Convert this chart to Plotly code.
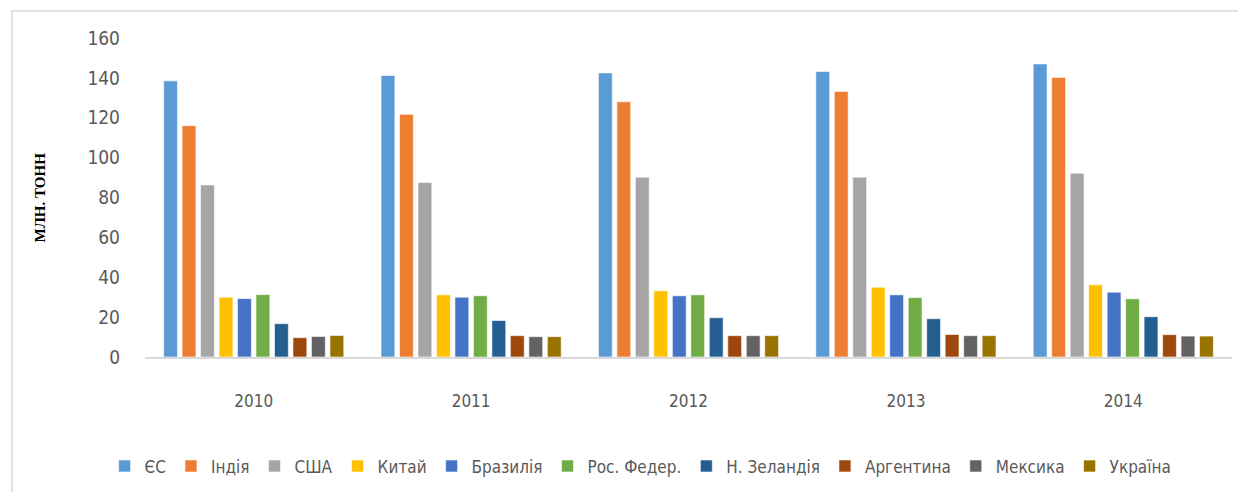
import plotly.graph_objects as go

# ============================
# дані з діаграми (млн. тонн)
# ============================
roky = ["2010", "2011", "2012", "2013", "2014"]

krainy = ["ЄС", "Індія", "США", "Китай", "Бразилія",
          "Рос. Федер.", "Н. Зеландія", "Аргентина", "Мексика", "Україна"]

es = [138.5, 141.2, 142.5, 143.2, 147.0]
india = [116.0, 121.7, 128.0, 133.2, 140.2]
ssha = [86.3, 87.5, 90.2, 90.2, 92.2]
kytai = [30.0, 31.2, 33.2, 35.0, 36.2]
brazyliia = [29.3, 30.0, 30.7, 31.2, 32.5]
ros_feder = [31.3, 30.7, 31.2, 29.8, 29.2]
n_zelandiia = [16.7, 18.3, 19.7, 19.2, 20.2]
argentyna = [9.7, 10.7, 10.7, 11.3, 11.2]
meksyka = [10.3, 10.2, 10.7, 10.7, 10.5]
ukraina = [10.8, 10.2, 10.7, 10.7, 10.5]

znachennia = [es, india, ssha, kytai, brazyliia,
              ros_feder, n_zelandiia, argentyna, meksyka, ukraina]

kolory = ["#5B9BD5", "#ED7D31", "#A5A5A5", "#FFC000", "#4472C4",
          "#70AD47", "#255E91", "#9E480E", "#636363", "#997300"]

SHRYFT = "Liberation Sans Narrow, DejaVu Sans Condensed, Arial Narrow, sans-serif"
SIRYI = "#595959"

fig = go.Figure()

for nazva, y, kolir in zip(krainy, znachennia, kolory):
    fig.add_trace(go.Bar(
        name=nazva,
        x=roky,
        y=y,
        marker=dict(color=kolir, line=dict(color="rgba(255,255,255,0.6)", width=1)),
    ))

# рамка навколо діаграми
fig.add_shape(type="rect", xref="paper", yref="paper",
              x0=-0.1224, x1=1.011, y0=-0.6, y1=1.0846,
              line=dict(color="#D9D9D9", width=1.5), layer="below")

fig.add_annotation(text="<b>МЛН. ТОНН</b>", xref="paper", yref="paper",
                   x=-0.0966, y=0.5, xanchor="center", yanchor="middle",
                   textangle=-90, showarrow=False,
                   font=dict(family="Liberation Serif, Times New Roman, serif", size=15, color="#000000"))

# сторінка має відступ 8px, тому розмір трохи менший
fig.update_layout(
    width=1238,
    height=484,
    margin=dict(l=137, r=14, t=30, b=135, autoexpand=False),
    plot_bgcolor="white",
    paper_bgcolor="white",
    barmode="group",
    bargap=0.15,
    bargroupgap=0.25,
    showlegend=True,
    legend=dict(orientation="h", xref="container", yref="container",
                x=0.511, xanchor="center", y=0.09, yanchor="top",
                font=dict(family=SHRYFT, size=17, color=SIRYI),
                itemwidth=30, tracegroupgap=0),
    xaxis=dict(showline=True, linecolor="#D9D9D9", linewidth=1.5,
               tickfont=dict(family=SHRYFT, size=17, color=SIRYI),
               ticklabelstandoff=28, showgrid=False),
    yaxis=dict(range=[0, 160], dtick=20, showgrid=False, zeroline=False,
               tickfont=dict(family=SHRYFT, size=19, color=SIRYI),
               ticklabelstandoff=24),
)

fig.write_html("out.html")
